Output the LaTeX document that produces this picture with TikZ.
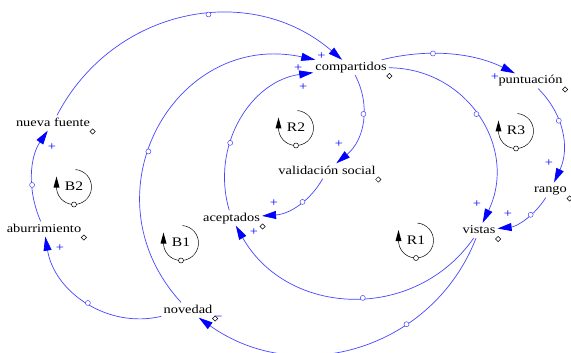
\documentclass[tikz,border=0pt]{standalone}
\usepackage{fontspec}
\setmainfont{Liberation Serif}[FakeStretch=1.2]
\usetikzlibrary{arrows.meta,shapes.geometric}
\definecolor{lnk}{RGB}{70,70,255}
\definecolor{tipc}{RGB}{0,0,255}
\tikzset{
  pics/cldloop/.style={code={
    \draw[black,line width=0.5pt] (85:17.5) arc[start angle=85,end angle=-180,radius=17.5];
    \fill[black] (-20.5,-0.5) -- (-14.5,-0.5) -- (-17.5,10.5) -- cycle;
    \node[circle,draw=black,fill=white,inner sep=0pt,minimum size=5pt,line width=0.5pt] at (0,-17.5) {};
    \node[font=\fontsize{13}{15}\selectfont,inner sep=0pt] at (0,0.5) {#1};
  }}
}
\begin{document}
\begin{tikzpicture}[x=1pt,y=1pt,
  var/.style={inner sep=2pt,text height=8.5pt,text depth=2.5pt,font=\fontsize{12}{14}\selectfont},
  link/.style={draw=lnk,line width=0.7pt,-{Triangle[length=14pt,width=8pt,color=tipc]}},
  hnd/.style={circle,draw=lnk,fill=white,inner sep=0pt,minimum size=5pt,line width=0.5pt},
  pol/.style={text=tipc,font=\fontsize{12}{14}\selectfont,inner sep=0pt},
  dia/.style={diamond,draw=black,fill=white,inner sep=0pt,minimum size=5.5pt,line width=0.5pt},
]
\path[use as bounding box,fill=white] (0,0) rectangle (571,-353);

% variables
\node[var] (comp) at (351,-67.5) {compartidos};
\node[var] (nf) at (53,-123) {nueva fuente};
\node[var] (vs) at (327,-171) {validación social};
\node[var] (acep) at (231.5,-218) {aceptados};
\node[var] (punt) at (530.5,-81) {puntuación};
\node[var] (rango) at (550.5,-190) {rango};
\node[var] (vistas) at (479,-230.5) {vistas};
\node[var] (abur) at (44,-229) {aburrimiento};
\node[var] (nov) at (188,-310) {novedad};

\foreach \n in {comp,nf,vs,acep,punt,rango,vistas,abur,nov}
  \node[dia] at ([shift={(0.5,-8.5)}]\n.east) {};

% links
\draw[link] (nf) .. controls (113.1,-7.7) and (250,19.5) .. (comp) node[hnd,pos=0.57]{};
\draw[link] (nov) .. controls (82.2,-194.1) and (175.1,-29.6) .. (comp) node[hnd,pos=0.43]{};
\draw[link] (acep) .. controls (210.2,-145.1) and (251.2,-81) .. (comp) node[hnd,pos=0.36]{};
\draw[link] (comp) .. controls (370.8,-104.6) and (365.1,-139.6) .. (vs) node[hnd,pos=0.42]{};
\draw[link] (vs) .. controls (310.5,-200.4) and (290.2,-214) .. (acep) node[hnd,pos=0.43]{};
\draw[link] (vistas) .. controls (414.4,-322.7) and (287.4,-316.8) .. (acep) node[hnd,pos=0.46]{};
\draw[link] (vistas) .. controls (432.7,-349.3) and (298,-388.5) .. (nov) node[hnd,pos=0.335]{};
\draw[link] (comp) .. controls (467.7,-68.3) and (518.3,-148.3) .. (vistas) node[hnd,pos=0.48]{};
\draw[link] (comp) .. controls (428.8,-48) and (473.5,-52.9) .. (punt) node[hnd,pos=0.37]{};
\draw[link] (punt) .. controls (563.6,-113.9) and (570.2,-147.8) .. (rango) node[hnd,pos=0.38]{};
\draw[link] (rango) .. controls (534.7,-215.3) and (517.5,-226.4) .. (vistas) node[hnd,pos=0.38]{};
\draw[link] (nov) .. controls (107.6,-329.1) and (54.5,-292.2) .. (abur) node[hnd,pos=0.49]{};
\draw[link] (abur) .. controls (26.8,-189.3) and (29.9,-156.8) .. (nf) node[hnd,pos=0.38]{};

% polarities
\node[pol] at (321.5,-56) {+};
\node[pol] at (298.3,-68.3) {+};
\node[pol] at (303.3,-86.7) {+};
\node[pol] at (339,-144) {+};
\node[pol] at (274,-203) {+};
\node[pol] at (254,-232) {+};
\node[pol] at (218.5,-318.5) {−};
\node[pol] at (477,-204) {+};
\node[pol] at (495,-77) {+};
\node[pol] at (549,-163) {+};
\node[pol] at (508,-214) {+};
\node[pol] at (60,-248) {+};
\node[pol] at (52,-147) {+};

% loops
\pic at (296,-128) {cldloop=R2};
\pic at (74,-187) {cldloop=B2};
\pic at (181,-243) {cldloop=B1};
\pic at (416,-240.5) {cldloop=R1};
\pic at (516,-131) {cldloop=R3};
\end{tikzpicture}
\end{document}
